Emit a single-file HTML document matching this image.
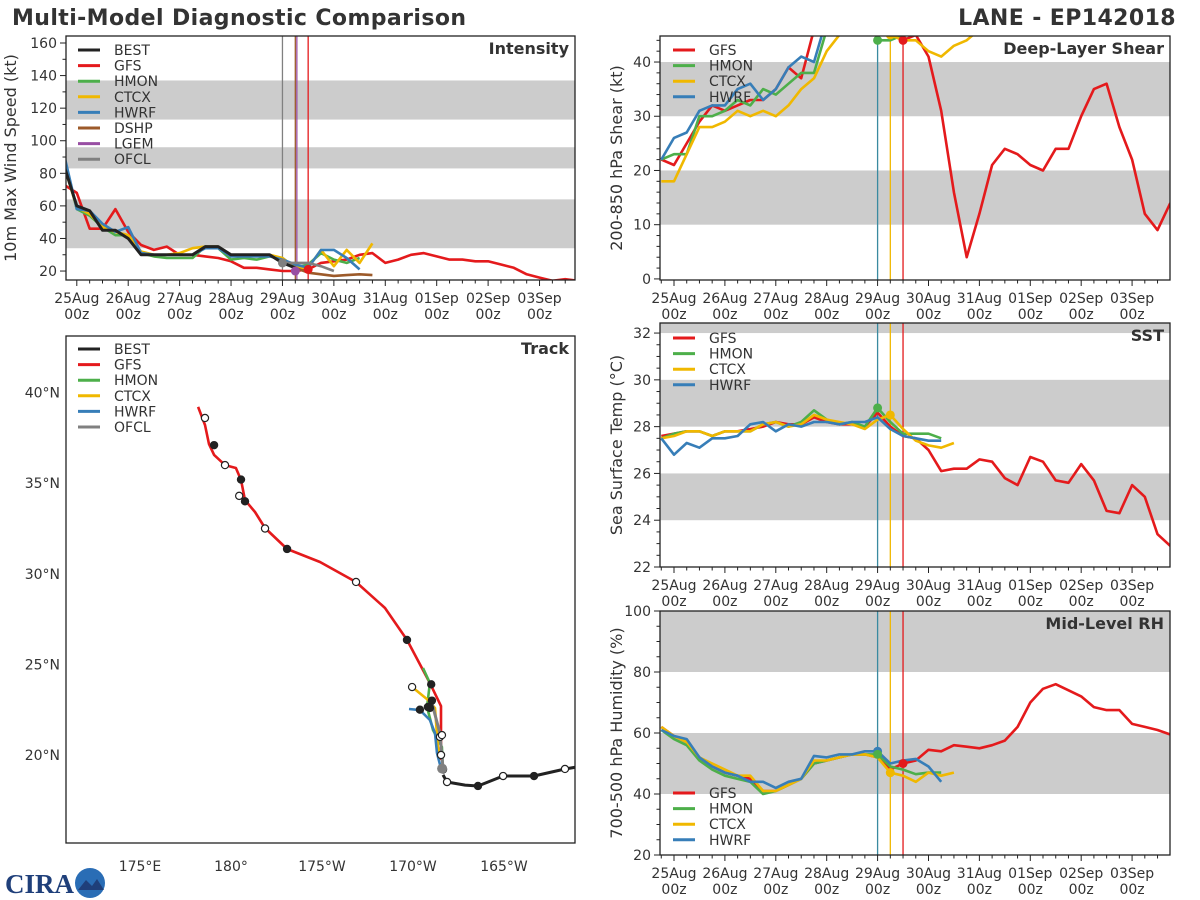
<!DOCTYPE html>
<html><head><meta charset="utf-8"><style>
html,body{margin:0;padding:0;background:#fff;width:1200px;height:900px;overflow:hidden}
svg{display:block;font-family:"DejaVu Sans","Liberation Sans",sans-serif}
</style></head><body>
<svg id="c" width="1200" height="900" viewBox="0 0 1200 900">
<text x="12" y="25" font-size="22" font-weight="bold" fill="#333" letter-spacing="0.4">Multi-Model Diagnostic Comparison</text>
<text x="1176" y="25" font-size="22" font-weight="bold" fill="#333" letter-spacing="0.4" text-anchor="end">LANE - EP142018</text>
<g>
<text x="5" y="893" font-size="27" font-weight="bold" fill="#1f3f7a" font-family="Liberation Serif,serif">CIRA</text>
<circle cx="90" cy="883" r="15" fill="#2a6db5"/>
<path d="M78 890 L86 880 L92 886 L97 879 L104 890 Z" fill="#1f3f7a"/>
</g>
</svg>
<script>
// ---------- DATA ----------
const dayLabels=["25Aug","26Aug","27Aug","28Aug","29Aug","30Aug","31Aug","01Sep","02Sep","03Sep"];
const intTicks=[20,40,60,80,100,120,140,160];
const shearTicks=[0,10,20,30,40];
const sstTicks=[22,24,26,28,30,32];
const rhTicks=[20,40,60,80,100];
// Intensity series (6-hourly starting t0 days from 25Aug 00z)
const intBEST=[85,60,57,45,45,40,30,30,30,30,30,35,35,30,30,30,30,25,22];
const intGFS=[73,68,46,46,58,44,36,33,35,30,30,29,28,26,22,22,21,20,20,21,25,26,27,30,31,25,27,30,31,29,27,27,26,26,24,22,18,16,14,15,14];
const intHMON=[88,58,54,47,42,42,31,29,28,28,28,35,34,27,28,27,29,28,22,24,31,27,25,28];
const intCTCX=[85,59,55,47,44,42,32,30,30,31,34,35,35,30,30,30,30,28,22,22,33,23,33,25,37];
const intHWRF=[92,58,57,49,44,47,31,30,30,30,30,34,34,29,29,29,29,27,24,22,33,33,28,21];
const intDSHP=[22,19,18,17,17.5,18,17.5];
const intOFCL=[25,25,25,23,20];
const intLGEM=[20];
// Shear
const shGFS=[22,21,25,29,32,31,32,33,33,35,39,37,46,50,52,52,50,45,46,44,45,41,31,16,4,12,21,24,23,21,20,24,24,30,35,36,28,22,12,9,14];
const shHMON=[22,23,23,30,30,31,33,32,35,34,36,38,38,46,50,50,50,44,44,45];
const shCTCX=[18,18,23,28,28,29,31,30,31,30,32,35,37,42,45,48,48,47,45,44,44,42,41,43,44,46];
const shHWRF=[22,26,27,31,32,32,35,36,33,35,39,41,40,48,52,52,50,47,45,45];
// SST
const sstGFS=[27.6,27.7,27.8,27.8,27.6,27.8,27.8,27.9,28.0,28.2,28.1,28.1,28.4,28.2,28.1,28.1,28.0,28.6,28.0,27.6,27.5,27.0,26.1,26.2,26.2,26.6,26.5,25.8,25.5,26.7,26.5,25.7,25.6,26.4,25.7,24.4,24.3,25.5,25.0,23.4,22.9];
const sstHMON=[27.5,27.7,27.8,27.8,27.6,27.8,27.8,27.8,28.1,28.2,28.0,28.2,28.7,28.3,28.1,28.2,28.0,28.8,28.2,27.7,27.7,27.7,27.5];
const sstCTCX=[27.5,27.6,27.8,27.8,27.6,27.8,27.8,27.8,28.1,28.2,28.0,28.1,28.5,28.3,28.2,28.1,27.9,28.3,28.5,27.9,27.4,27.2,27.1,27.3];
const sstHWRF=[27.5,26.8,27.3,27.1,27.5,27.5,27.6,28.1,28.2,27.8,28.1,28.0,28.2,28.2,28.1,28.2,28.2,28.4,27.9,27.6,27.5,27.4,27.4];
// RH
const rhGFS=[62,59,57,52,49,47,46,45,41,41,43,45,50,51,52,53,53,52,48,50,51,54.5,54,56,55.5,55,56,57.5,62,70,74.5,76,74,72,68.5,67.5,67.5,63,62,61,59.5];
const rhHMON=[61,58,56,51,48,46,45,44,40,41,43,45,50,51,52,53,53,53,49,48,46.5,47,47];
const rhCTCX=[62,59,57,52,50,48,46,46,41,41,43,45,51,51,52,53,53,52,47,46,44,47,46,47];
const rhHWRF=[61,59,58,52,49,47,46,44,44,42,44,45,52.5,52,53,53,54,54,50,51,51.5,49,44];
// Track (lon in degrees east, lat N)
const trkBESTlon=[199.0,198.35,196.65,194.95,193.57,192.86,191.87,191.65];
const trkBESTlat=[19.34,19.23,18.84,18.84,18.29,18.34,18.51,18.9];
const trkGFSlon=[191.54,191.54,191.54,190.93,189.67,188.46,186.87,184.89,183.08,181.87,181.32,180.77,180.55,180.27,179.67,179.07,178.79,178.57,178.19];
const trkGFSlat=[19.72,20.99,22.70,23.97,26.35,28.11,29.55,30.65,31.37,32.53,33.41,34.07,35.18,35.84,36.00,36.56,37.16,38.21,39.21];
const trkHMONlon=[191.65,191.59,191.10,190.77,190.93,190.55];
const trkHMONlat=[19.01,20.44,21.38,22.65,23.97,24.80];
const trkCTCXlon=[191.54,191.37,191.21,190.82,189.95];
const trkCTCXlat=[19.89,20.44,22.59,23.04,23.75];
const trkHWRFlon=[191.59,191.32,191.21,190.93,190.38,189.78];
const trkHWRFlat=[19.06,20.11,21.21,21.93,22.48,22.54];
const trkOFCLlon=[191.65,191.48,191.04];
const trkOFCLlat=[19.28,21.21,22.87];
const dotLon=[198.35,196.65,194.95,193.57,191.87,191.65,178.57,179.07,179.67,180.55,180.45,180.77,181.87,183.08,186.87,189.67,191.0,191.04,190.82,190.93,191.48,191.59,191.54,189.95,190.38];
const dotLat=[19.23,18.84,18.84,18.29,18.51,19.2,38.6,37.1,36.0,35.2,34.3,34.0,32.5,31.37,29.55,26.35,23.9,23.0,22.65,22.6,21.0,21.1,20.0,23.75,22.5];
const dotFill=[0,1,0,1,0,1,0,1,0,1,0,1,0,1,0,1,1,1,1,1,0,0,0,0,1];

// ---------- DRAW ----------
const NS="http://www.w3.org/2000/svg";
const svg=document.getElementById('c');
const C={BEST:"#222222",GFS:"#e41a1c",HMON:"#4daf4a",CTCX:"#f0b800",HWRF:"#377eb8",DSHP:"#9c5a2a",LGEM:"#984ea3",OFCL:"#808080"};
function mk(tag,attrs,parent){const e=document.createElementNS(NS,tag);for(const k in attrs)e.setAttribute(k,attrs[k]);(parent||svg).appendChild(e);return e;}
function txt(x,y,s,size,anchor,parent,extra){const e=mk('text',Object.assign({x:x,y:y,'font-size':size,'text-anchor':anchor||'start',fill:'#333'},extra||{}),parent);e.textContent=s;return e;}

function panel(name,box,tmin,tmax,vmin,vmax){
  const g=mk('g',{});
  
  
  const clipId=name+'-clip';
  const cp=mk('clipPath',{id:clipId},g);mk('rect',{x:box.x0,y:box.y0,width:box.x1-box.x0,height:box.y1-box.y0},cp);
  const xs=t=>box.x0+(t-tmin)/(tmax-tmin)*(box.x1-box.x0);
  const ys=v=>box.y1-(v-vmin)/(vmax-vmin)*(box.y1-box.y0);
  const inner=mk('g',{'clip-path':'url(#'+clipId+')'},g);
  return {g,inner,xs,ys,box};
}
function band(P,lo,hi){const r=mk('rect',{x:P.box.x0,width:P.box.x1-P.box.x0,y:P.ys(hi),height:P.ys(lo)-P.ys(hi),fill:'#cccccc'},P.inner);
  
  }
function frame(P){const b=P.box;const r=mk('rect',{x:b.x0,y:b.y0,width:b.x1-b.x0,height:b.y1-b.y0,fill:'none',stroke:'#222','stroke-width':1.3},P.g);
  
  }
function timeAxis(P){const b=P.box;
  for(let q=-1;q<=40;q++){const t=q/4;const x=P.xs(t);if(x<b.x0||x>b.x1)continue;const maj=(q%4===0);
    mk('line',{x1:x,x2:x,y1:b.y1,y2:b.y1+(maj?6:3.5),stroke:'#222','stroke-width':1},P.g);}
  dayLabels.forEach((d,i)=>{const x=P.xs(i);
    const a=txt(x,b.y1+23,d,14,'middle',P.g);
    const z=txt(x,b.y1+39,'00z',14,'middle',P.g);});
}
function valAxis(P,ticks,minor,vmin,vmax,title,tx){const b=P.box;
  for(let v=Math.ceil(vmin/minor)*minor;v<=vmax;v+=minor){const y=P.ys(v);const maj=ticks.indexOf(Math.round(v*100)/100)>=0;
    mk('line',{x1:b.x0-(maj?6:3.5),x2:b.x0,y1:y,y2:y,stroke:'#222','stroke-width':1},P.g);}
  ticks.forEach(v=>{const e=txt(b.x0-9,P.ys(v)+5,String(v),14,'end',P.g);});
  const cy=(b.y0+b.y1)/2;
  const t=txt(tx,cy,title,16,'middle',P.g,{transform:'rotate(-90 '+tx+' '+cy+')'});
  
  
}
function series(P,vals,t0,color,nm,w){
  const pts=vals.map((v,i)=>P.xs(t0+i*0.25).toFixed(1)+','+P.ys(v).toFixed(1)).join(' ');
  const l=mk('polyline',{points:pts,fill:'none',stroke:color,'stroke-width':w||2.6,'stroke-linejoin':'round'},P.inner);
  
  
}
function dot(P,t,v,color,nm){const c=mk('circle',{cx:P.xs(t),cy:P.ys(v),r:4.5,fill:color},P.inner);
  
  }
function vline(P,t,color){const l=mk('line',{x1:P.xs(t),x2:P.xs(t),y1:P.box.y0,y2:P.box.y1,stroke:color,'stroke-width':1.3},P.inner);
  
  }
function legend(P,names,x,y0,dy){names.forEach((n,i)=>{const y=y0+i*dy;
  const l=mk('line',{x1:x,x2:x+22,y1:y,y2:y,stroke:C[n],'stroke-width':3},P.g);
  
  
  const t=txt(x+36,y+5,n,14,'start',P.g);
  
  });}
function ptitle(P,s){const t=txt(P.box.x1-6,P.box.y0+18,s,16,'end',P.g,{'font-weight':'bold'});
  
  }

// Intensity panel
const P1=panel('intensity-panel',{x0:66,x1:575,y0:36,y1:280},-0.21,9.69,14.5,164.3);
band(P1,34,64);band(P1,83,96);band(P1,113,137);
vline(P1,4,'#808080');vline(P1,4.25,'#9c5a2a');vline(P1,4.28,'#984ea3');vline(P1,4.5,'#e41a1c');
series(P1,intGFS,-0.25,C.GFS,'gfs-intensity-line');
series(P1,intHMON,-0.25,C.HMON,'hmon-intensity-line');
series(P1,intCTCX,-0.25,C.CTCX,'ctcx-intensity-line');
series(P1,intHWRF,-0.25,C.HWRF,'hwrf-intensity-line');
series(P1,intDSHP,4.25,C.DSHP,'dshp-intensity-line');
series(P1,intOFCL,4,C.OFCL,'ofcl-intensity-line');
series(P1,intBEST,-0.25,C.BEST,'best-intensity-line',3);
dot(P1,4,intOFCL[0],C.OFCL,'ofcl-init-dot');dot(P1,4.25,intLGEM[0],C.LGEM,'lgem-dot');dot(P1,4.5,intGFS[19],C.GFS,'gfs-init-dot');
frame(P1);timeAxis(P1);valAxis(P1,intTicks,10,15,164,'10m Max Wind Speed (kt)',16);
legend(P1,["BEST","GFS","HMON","CTCX","HWRF","DSHP","LGEM","OFCL"],78,50,15.6);
ptitle(P1,'Intensity');

// Shear
const P2=panel('shear-panel',{x0:660,x1:1170,y0:36,y1:280},-0.275,9.745,-0.2,44.8);
band(P2,10,20);band(P2,30,40);
vline(P2,4,'#3a8aa0');vline(P2,4.25,'#f0b800');vline(P2,4.5,'#e41a1c');
series(P2,shGFS,-0.25,C.GFS,'gfs-shear-line');
series(P2,shHMON,-0.25,C.HMON,'hmon-shear-line');
series(P2,shCTCX,-0.25,C.CTCX,'ctcx-shear-line');
series(P2,shHWRF,-0.25,C.HWRF,'hwrf-shear-line');
dot(P2,4,shHMON[17],C.HMON,'hmon-init-dot');dot(P2,4.25,shCTCX[18],C.CTCX,'ctcx-init-dot');dot(P2,4.5,shGFS[19],C.GFS,'gfs-init-dot');
frame(P2);timeAxis(P2);valAxis(P2,shearTicks,2,0,44.8,'200-850 hPa Shear (kt)',622);
legend(P2,["GFS","HMON","CTCX","HWRF"],673,50,15.6);
ptitle(P2,'Deep-Layer Shear');

// SST
const P3=panel('sst-panel',{x0:660,x1:1170,y0:323,y1:567},-0.275,9.745,22,32.43);
band(P3,24,26);band(P3,28,30);band(P3,32,34);
vline(P3,4,'#3a8aa0');vline(P3,4.25,'#f0b800');vline(P3,4.5,'#e41a1c');
series(P3,sstGFS,-0.25,C.GFS,'gfs-sst-line');
series(P3,sstHMON,-0.25,C.HMON,'hmon-sst-line');
series(P3,sstCTCX,-0.25,C.CTCX,'ctcx-sst-line');
series(P3,sstHWRF,-0.25,C.HWRF,'hwrf-sst-line');
dot(P3,4,sstHMON[17],C.HMON,'hmon-init-dot');dot(P3,4.25,sstCTCX[18],C.CTCX,'ctcx-init-dot');
frame(P3);timeAxis(P3);valAxis(P3,sstTicks,0.5,22,32.4,'Sea Surface Temp (°C)',622);
legend(P3,["GFS","HMON","CTCX","HWRF"],673,338,15.6);
ptitle(P3,'SST');

// RH
const P4=panel('rh-panel',{x0:660,x1:1170,y0:611,y1:855},-0.275,9.745,20,100);
band(P4,40,60);band(P4,80,100);
vline(P4,4,'#3a8aa0');vline(P4,4.25,'#f0b800');vline(P4,4.5,'#e41a1c');
series(P4,rhGFS,-0.25,C.GFS,'gfs-rh-line');
series(P4,rhHMON,-0.25,C.HMON,'hmon-rh-line');
series(P4,rhCTCX,-0.25,C.CTCX,'ctcx-rh-line');
series(P4,rhHWRF,-0.25,C.HWRF,'hwrf-rh-line');
dot(P4,4,rhHWRF[17],C.HWRF,'hwrf-init-dot');dot(P4,4,rhHMON[17],C.HMON,'hmon-init-dot');dot(P4,4.25,rhCTCX[18],C.CTCX,'ctcx-init-dot');dot(P4,4.5,rhGFS[19],C.GFS,'gfs-init-dot');
frame(P4);timeAxis(P4);valAxis(P4,rhTicks,5,20,100,'700-500 hPa Humidity (%)',622);
legend(P4,["GFS","HMON","CTCX","HWRF"],673,793,15.6);
ptitle(P4,'Mid-Level RH');

// Track
const TB={x0:66,x1:575,y0:336,y1:843};
const T=panel('track-panel',TB,0,1,0,1);
const lx=lon=>231+(lon-180)*18.2;
const ly=lat=>755-(lat-20)*18.12;
function track(lons,lats,color,nm,w){
  const pts=lons.map((o,i)=>lx(o).toFixed(1)+','+ly(lats[i]).toFixed(1)).join(' ');
  const l=mk('polyline',{points:pts,fill:'none',stroke:color,'stroke-width':w||2.6,'stroke-linejoin':'round'},T.inner);
  
  
}
track(trkGFSlon,trkGFSlat,C.GFS,'gfs-track');
track(trkHMONlon,trkHMONlat,C.HMON,'hmon-track');
track(trkCTCXlon,trkCTCXlat,C.CTCX,'ctcx-track');
track(trkHWRFlon,trkHWRFlat,C.HWRF,'hwrf-track');
track(trkOFCLlon,trkOFCLlat,C.OFCL,'ofcl-track',3);
track(trkBESTlon,trkBESTlat,C.BEST,'best-track',3);
dotLon.forEach((o,i)=>{const c=mk('circle',{cx:lx(o),cy:ly(dotLat[i]),r:3.6,fill:dotFill[i]?'#222':'#fff',stroke:'#222','stroke-width':1.2},T.inner);
  
  });
const gd=mk('circle',{cx:lx(191.6),cy:ly(19.25),r:5,fill:'#808080'},T.inner);


frame(T);
const lonTicks=[175,180,185,190,195];const lonLabels=["175°E","180°","175°W","170°W","165°W"];
const latTicks=[20,25,30,35,40];const latLabels=["20°N","25°N","30°N","35°N","40°N"];
lonTicks.forEach((o,i)=>{const e=txt(lx(o),871,lonLabels[i],14,'middle',T.g);});
latTicks.forEach((a,i)=>{const e=txt(60,ly(a)+5,latLabels[i],14,'end',T.g);});
["BEST","GFS","HMON","CTCX","HWRF","OFCL"].forEach((n,i)=>{const y=349+i*15.6;
  const l=mk('line',{x1:78,x2:100,y1:y,y2:y,stroke:C[n],'stroke-width':3},T.g);
  
  
  const t=txt(114,y+5,n,14,'start',T.g);
  
  });
const tt=txt(569,354,'Track',16,'end',T.g,{'font-weight':'bold'});


</script>
</body></html>
